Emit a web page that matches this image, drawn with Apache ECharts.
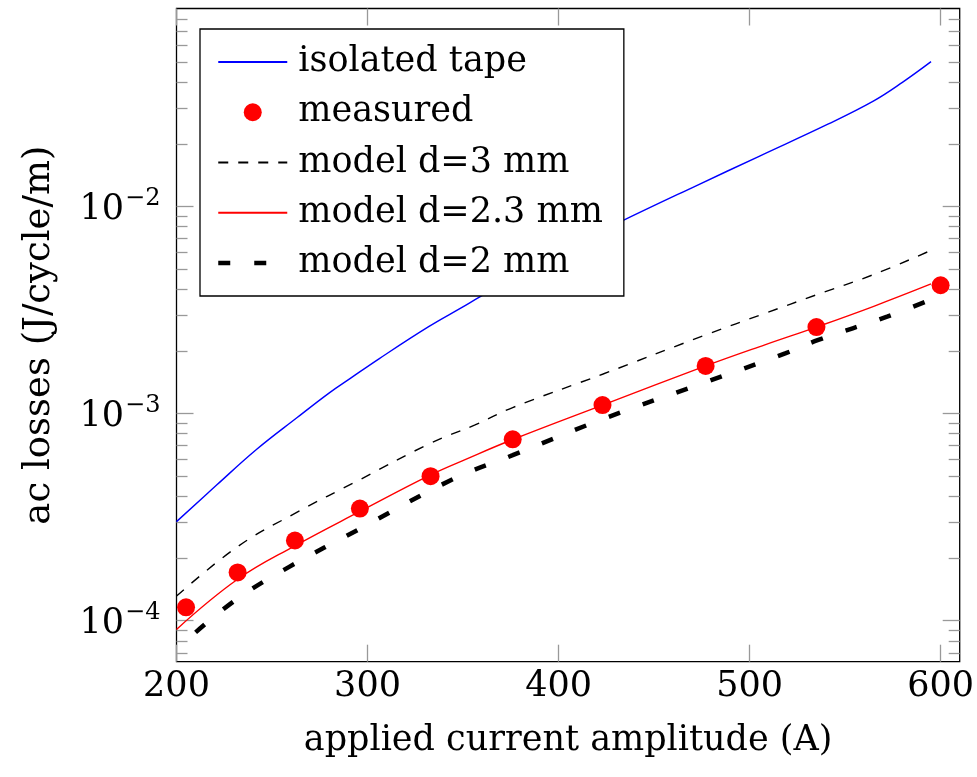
<!DOCTYPE html>
<html>
<head>
<meta charset="utf-8">
<script src="https://cdn.jsdelivr.net/npm/echarts@6/dist/echarts.min.js"></script>
<style>
html,body{margin:0;padding:0;background:#fff;}
#c{width:977px;height:777px;}
</style>
</head>
<body>
<div id="c"></div>
<script>
// ---- data ----
const isoX  = [200, 221, 242, 263, 280, 291, 306, 332, 349, 359, 400, 432, 472, 505, 541, 565, 580, 595];
const isoY  = [3.01e-4, 4.52e-4, 6.73e-4, 9.55e-4, 1.26e-3, 1.48e-3, 1.84e-3, 2.63e-3, 3.24e-3, 3.67e-3, 6.0e-3, 8.41e-3, 1.26e-2, 1.75e-2, 2.5e-2, 3.24e-2, 3.98e-2, 5.01e-2];

const measX = [205, 232, 262, 296, 333, 376, 423, 477, 535, 600];
const measY = [1.16e-4, 1.71e-4, 2.44e-4, 3.48e-4, 4.99e-4, 7.52e-4, 1.10e-3, 1.70e-3, 2.62e-3, 4.17e-3];

const d3X = [200, 232, 262, 296, 333, 356, 376, 423, 477, 508, 535, 565, 594];
const d3Y = [1.315e-4, 2.28e-4, 3.3e-4, 4.8e-4, 7.2e-4, 8.8e-4, 1.07e-3, 1.55e-3, 2.40e-3, 3.05e-3, 3.75e-3, 4.7e-3, 6.09e-3];

const d23X = [200, 232, 262, 296, 333, 352, 376, 423, 477, 508, 535, 565, 595];
const d23Y = [9.08e-5, 1.585e-4, 2.30e-4, 3.37e-4, 5.06e-4, 6.05e-4, 7.5e-4, 1.10e-3, 1.70e-3, 2.15e-3, 2.62e-3, 3.3e-3, 4.23e-3];

const d2X = [210, 232, 259, 296, 345, 376, 423, 477, 519, 536, 572, 593];
const d2Y = [8.79e-5, 1.28e-4, 1.82e-4, 2.78e-4, 4.84e-4, 6.3e-4, 9.4e-4, 1.42e-3, 1.96e-3, 2.27e-3, 2.94e-3, 3.5e-3];

const xTicks = [200, 300, 400, 500, 600];
const yMajorTicks = [1e-4, 1e-3, 1e-2];
const yMinorTicks = [7e-5, 8e-5, 9e-5,
  2e-4, 3e-4, 4e-4, 5e-4, 6e-4, 7e-4, 8e-4, 9e-4,
  2e-3, 3e-3, 4e-3, 5e-3, 6e-3, 7e-3, 8e-3, 9e-3,
  2e-2, 3e-2, 4e-2, 5e-2, 6e-2, 7e-2, 8e-2];

const names = ['isolated tape', 'measured', 'model d=3 mm', 'model d=2.3 mm', 'model d=2 mm'];
const xTitle = 'applied current amplitude (A)';
const yTitle = 'ac losses (J/cycle/m)';

// ---- chart ----
const FONT = 'DejaVu Serif';
const X_MIN = 200, X_MAX = 610;
const Y_MIN = 6.34e-5, Y_MAX = 0.0905;
const TICK_COLOR = '#999';

function zip(xs, ys) { return xs.map((x, i) => [x, ys[i]]); }

function xAxisDef(pos, showLabels) {
  return {
    type: 'value', position: pos, min: X_MIN, max: X_MAX,
    axisLine: { show: false },
    splitLine: { show: false },
    axisTick: { show: true, inside: true, length: 17, customValues: xTicks,
      lineStyle: { color: TICK_COLOR, width: 1.3 } },
    axisLabel: { show: showLabels, customValues: xTicks, margin: 8,
      fontFamily: FONT, fontSize: 35, color: '#000' },
    name: showLabels ? xTitle : '',
    nameLocation: 'middle', nameGap: 62,
    nameTextStyle: { fontFamily: FONT, fontSize: 35, color: '#000' }
  };
}
function yAxisDef(pos, major, showLabels) {
  return {
    type: 'log', logBase: 10, position: pos, min: Y_MIN, max: Y_MAX,
    axisLine: { show: false },
    splitLine: { show: false },
    minorTick: { show: false },
    axisTick: { show: true, inside: true, length: major ? 17 : 11,
      customValues: major ? yMajorTicks : yMinorTicks,
      lineStyle: { color: TICK_COLOR, width: 1.3 } },
    axisLabel: { show: showLabels, customValues: yMajorTicks, margin: 16,
      formatter: function (v) {
        const e = Math.round(Math.log10(v));
        return '{b|10}{s|' + (e < 0 ? '\u2212' : '') + Math.abs(e) + '}';
      },
      rich: {
        b: { fontFamily: FONT, fontSize: 35, color: '#000', lineHeight: 42, verticalAlign: 'bottom' },
        s: { fontFamily: FONT, fontSize: 24, color: '#000', lineHeight: 24, verticalAlign: 'bottom', padding: [0, 0, 17, 1] }
      }
    },
    name: showLabels ? yTitle : '',
    nameLocation: 'middle', nameGap: 119, nameRotate: 90,
    nameTextStyle: { fontFamily: FONT, fontSize: 37, color: '#000' }
  };
}

const hideSym = { opacity: 0 };

const chart = echarts.init(document.getElementById('c'), null, { renderer: 'canvas' });
chart.setOption({
  animation: false,
  backgroundColor: '#fff',
  grid: { left: 176.5, top: 8.5, right: 11.3, bottom: 115.3, show: true,
    borderColor: '#000', borderWidth: 1.3, backgroundColor: 'transparent' },
  xAxis: [xAxisDef('bottom', true), xAxisDef('top', false)],
  yAxis: [yAxisDef('left', true, true), yAxisDef('left', false, false),
          yAxisDef('right', true, false), yAxisDef('right', false, false)],
  legend: {
    orient: 'vertical', left: 200, top: 29,
    padding: [13, 21, 13, 16],
    itemGap: 10.25, itemWidth: 69, itemHeight: 18,
    backgroundColor: '#fff', borderColor: '#000', borderWidth: 1.3,
    data: [
      { name: names[0], itemStyle: hideSym },
      { name: names[1] },
      { name: names[2], itemStyle: hideSym },
      { name: names[3], itemStyle: hideSym },
      { name: names[4], itemStyle: hideSym, lineStyle: { width: 4.5, type: [12, 24] } }
    ],
    textStyle: { fontFamily: FONT, fontSize: 35, color: '#000', lineHeight: 40, padding: [0, 0, 0, 6] },
    z: 10
  },
  series: [
    { name: names[0], type: 'line', data: zip(isoX, isoY), symbol: 'none', smooth: 0.4,
      lineStyle: { color: '#0000ff', width: 1.4 }, itemStyle: { color: '#0000ff' }, z: 2 },
    { name: names[2], type: 'line', data: zip(d3X, d3Y), symbol: 'none', smooth: 0.4,
      lineStyle: { color: '#000', width: 1.4, type: [10, 10] }, itemStyle: { color: '#000' }, z: 2 },
    { name: names[3], type: 'line', data: zip(d23X, d23Y), symbol: 'none', smooth: 0.4,
      lineStyle: { color: '#ff0000', width: 1.4 }, itemStyle: { color: '#ff0000' }, z: 2 },
    { name: names[4], type: 'line', data: zip(d2X, d2Y), symbol: 'none', smooth: 0.4,
      lineStyle: { color: '#000', width: 4.5, type: [12, 24] }, itemStyle: { color: '#000' }, z: 2 },
    { name: names[1], type: 'scatter', data: zip(measX, measY), symbol: 'circle', symbolSize: 18,
      itemStyle: { color: '#ff0000', opacity: 1 }, z: 3 }
  ]
});
</script>
</body>
</html>
